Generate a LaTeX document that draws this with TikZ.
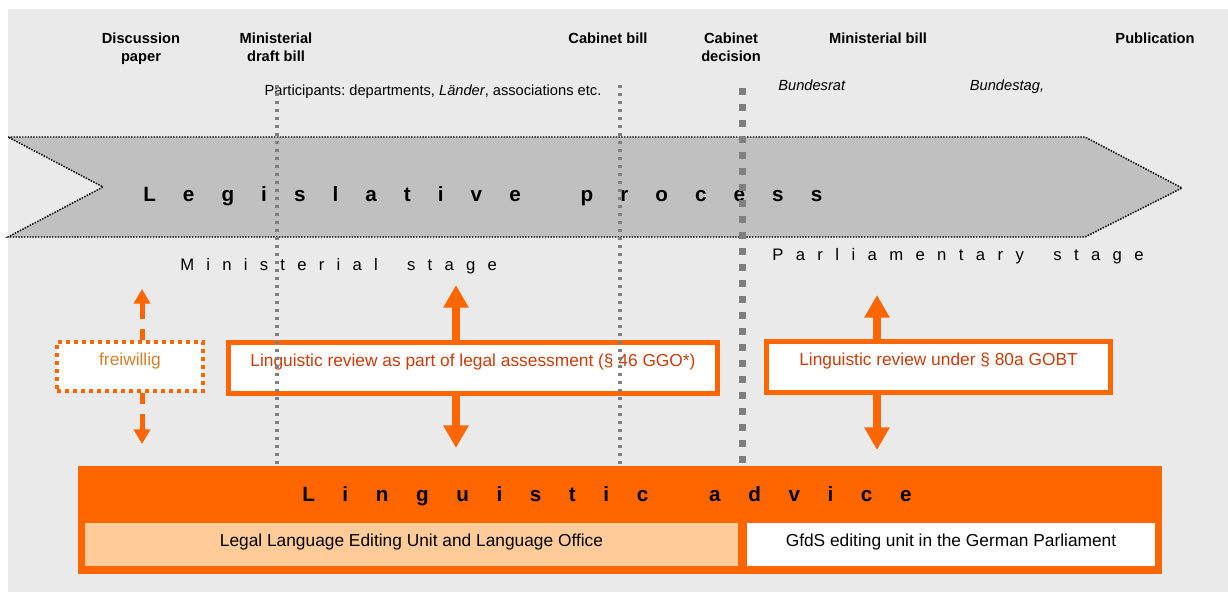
\documentclass[tikz,border=0pt]{standalone}
\usepackage{fontspec}
\setmainfont{Liberation Sans}
\usetikzlibrary{arrows.meta}
\definecolor{backgray}{RGB}{234,234,234}
\definecolor{chevrongray}{RGB}{192,192,192}
\definecolor{markergray}{RGB}{128,128,128}
\definecolor{signalorange}{RGB}{255,102,0}
\definecolor{paleorange}{RGB}{255,204,153}
\definecolor{reviewred}{RGB}{204,60,10}
\definecolor{optionalbrown}{RGB}{214,128,40}

\newcommand\spreadtext[2]{\def\spreadgap{#1}\spreadstep#2\relax}
\newcommand\spreadstep[1]{\ifx\relax#1\else#1\hspace{\spreadgap}\expandafter\spreadstep\fi}

\tikzset{
  toplabel/.style={font=\fontsize{11}{13}\selectfont\bfseries, align=center, anchor=north, inner sep=0pt},
  note/.style={font=\fontsize{11}{13}\selectfont\frenchspacing, anchor=base, inner sep=0pt},
  spreadbold/.style={font=\fontsize{15.5}{18}\selectfont\bfseries, anchor=base west, inner sep=0pt},
  spreadplain/.style={font=\fontsize{12.5}{15}\selectfont, anchor=base west, inner sep=0pt},
  reviewbox/.style={draw=signalorange, fill=white, line width=3.75pt, minimum height=38.25pt,
    text=reviewred, font=\fontsize{13}{15}\selectfont, text height=9pt, text depth=10.5pt, inner sep=0pt},
  optionalbox/.style={draw=signalorange, fill=white, line width=3pt, dash pattern=on 3pt off 3pt,
    minimum width=109.5pt, minimum height=36.75pt, text=optionalbrown,
    font=\fontsize{13}{15}\selectfont, text height=9pt, text depth=10.5pt, inner sep=0pt},
  unitbox/.style={minimum height=32.25pt, font=\fontsize{13}{15}\selectfont,
    text height=9pt, text depth=6pt, inner sep=0pt},
  bigarrow/.style={signalorange, line width=6pt, -{Triangle[width=18pt,length=17pt]}},
  optionalarrow/.style={signalorange, line width=3.75pt, dash pattern=on 8.25pt off 7.5pt on 40pt,
    -{Triangle[width=12pt,length=11pt]}},
  thinmarker/.style={markergray, line width=2.6pt, dash pattern=on 2.6pt off 3.4pt},
  thickmarker/.style={markergray, line width=5.25pt, dash pattern=on 5.25pt off 6.75pt},
}

\begin{document}
\begin{tikzpicture}[x=0.75pt,y=-0.75pt]
\useasboundingbox (0,0) rectangle (1228,592);
\fill[white] (0,0) rectangle (1228,592);
\fill[backgray] (8,9) rectangle (1228,592);

\node[toplabel] (discussion) at (141,33) {Discussion\\paper};
\node[toplabel] (draftbill) at (276,33) {Ministerial\\draft bill};
\node[toplabel] (cabinetbill) at (608,33) {Cabinet bill};
\node[toplabel] (decision) at (731,33) {Cabinet\\decision};
\node[toplabel] (ministerialbill) at (878,33) {Ministerial bill};
\node[toplabel] (publication) at (1155,33) {Publication};

\node[note] (participants) at (433,96) {Participants: departments, \textit{Länder}, associations etc.};
\node[note] (bundesrat) at (812,90) {\textit{Bundesrat}};
\node[note] (bundestag) at (1007,90) {\textit{Bundestag,}};

\filldraw[fill=chevrongray, draw=black, line width=1.1pt, densely dotted]
  (8,137) -- (1085,137) -- (1182,188) -- (1085,237) -- (8,237) -- (103,187) -- cycle;
\node[spreadbold] (process) at (143,201) {\spreadtext{20.3pt}{Legislative~process}};
\node[spreadplain] (ministerialstage) at (180,270) {\spreadtext{9.2pt}{Ministerial~stage}};
\node[spreadplain] (parliamentstage) at (772,260) {\spreadtext{9.3pt}{Parliamentary~stage}};

\node[optionalbox] (freiwillig) at (130,366.5) {freiwillig};
\node[reviewbox, minimum width=367pt] (ministerialreview) at (473,367.5)
  {Linguistic review as part of legal assessment (§ 46 GGO*)};
\node[reviewbox, minimum width=258pt] (parliamentreview) at (938.5,366.5)
  {Linguistic review under § 80a GOBT};

\coordinate (optionalup) at (142,289);
\coordinate (optionaldown) at (142,444);
\coordinate (ministerialup) at (456,285);
\coordinate (ministerialdown) at (456,448);
\coordinate (parliamentup) at (877,295);
\coordinate (parliamentdown) at (877,450);
\draw[optionalarrow] (freiwillig.north -| optionalup) -- (optionalup);
\draw[optionalarrow] (freiwillig.south -| optionaldown) -- (optionaldown);
\draw[bigarrow] (ministerialreview.north -| ministerialup) -- (ministerialup);
\draw[bigarrow] (ministerialreview.south -| ministerialdown) -- (ministerialdown);
\draw[bigarrow] (parliamentreview.north -| parliamentup) -- (parliamentup);
\draw[bigarrow] (parliamentreview.south -| parliamentdown) -- (parliamentdown);

\fill[signalorange] (78,466) rectangle (1162,574);
\node[spreadbold] (advice) at (302,501) {\spreadtext{20.7pt}{Linguistic~advice}};
\node[unitbox, fill=paleorange, minimum width=489.75pt] (editingunit) at (411.5,544.5)
  {Legal Language Editing Unit and Language Office};
\node[unitbox, fill=white, minimum width=306pt] (gfdsunit) at (951,544.5)
  {GfdS editing unit in the German Parliament};

\draw[thinmarker] (277,85) -- (277,465);
\draw[thinmarker] (620,85) -- (620,465);
\draw[thickmarker] (742,88) -- (742,465);
\end{tikzpicture}
\end{document}
